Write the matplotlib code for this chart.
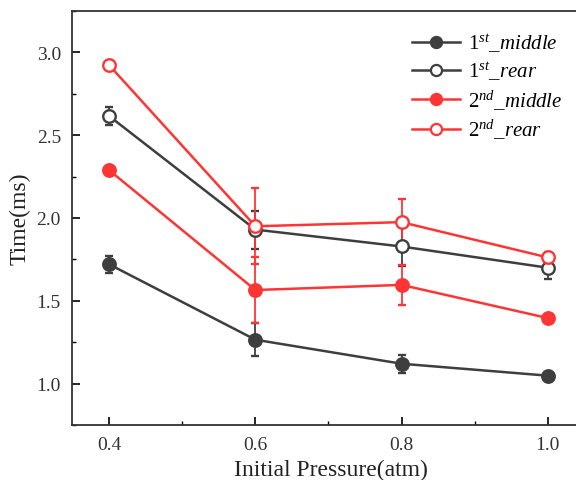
import matplotlib
matplotlib.use("Agg")
import matplotlib.pyplot as plt
from matplotlib.ticker import MultipleLocator
from matplotlib.lines import Line2D

plt.rcParams['font.family'] = ['Liberation Serif', 'DejaVu Serif']
plt.rcParams['mathtext.fontset'] = 'custom'
plt.rcParams['mathtext.rm'] = 'Liberation Serif'
plt.rcParams['mathtext.it'] = 'Liberation Serif:italic'

pressure = [0.4, 0.6, 0.8, 1.0]
first_middle = [1.72, 1.265, 1.12, 1.048]
first_middle_err = [0.05, 0.10, 0.053, 0.015]
first_rear = [2.615, 1.93, 1.828, 1.70]
first_rear_err = [0.053, 0.115, 0.12, 0.07]
second_middle = [2.288, 1.565, 1.596, 1.396]
second_middle_err = [0.015, 0.20, 0.12, 0.015]
second_rear = [2.922, 1.95, 1.975, 1.762]
second_rear_err = [0.015, 0.23, 0.14, 0.03]

labels = [r'$\mathit{1}^{\mathit{st}}\mathit{\_middle}$',
          r'$\mathit{1}^{\mathit{st}}\mathit{\_rear}$',
          r'$\mathit{2}^{\mathit{nd}}\mathit{\_middle}$',
          r'$\mathit{2}^{\mathit{nd}}\mathit{\_rear}$']

black = '#3e3e3e'
red = '#ff3535'

fig = plt.figure(figsize=(5.76, 4.81), dpi=100)
ax = fig.add_axes([72/576, 1-426/481, (590-72)/576, (426-12)/481])

series = [
    (first_middle, first_middle_err, black, True),
    (first_rear, first_rear_err, black, False),
    (second_middle, second_middle_err, red, True),
    (second_rear, second_rear_err, red, False),
]
handles = []
for (vals, errs, col, filled), lab in zip(series, labels):
    ax.errorbar(pressure, vals, yerr=errs, color=col, lw=1.8, marker='o',
                ms=9, mfc=col if filled else 'white', mec=col, mew=1.7,
                capsize=3, capthick=1.3, elinewidth=1.3)
    handles.append(Line2D([], [], color=col, lw=1.8, marker='o', ms=8,
                          mfc=col if filled else 'white', mec=col, mew=1.6,
                          label=lab))

ax.set_xlim(0.349, 1.058)
ax.set_ylim(0.75, 3.25)
ax.xaxis.set_major_locator(MultipleLocator(0.2))
ax.xaxis.set_minor_locator(MultipleLocator(0.1))
ax.yaxis.set_major_locator(MultipleLocator(0.5))
ax.yaxis.set_minor_locator(MultipleLocator(0.25))
ax.set_xticks(pressure)
ax.set_xticklabels(['0.4', '0.6', '0.8', '1.0'])
ax.set_yticks([1.0, 1.5, 2.0, 2.5, 3.0])
ax.set_yticklabels(['1.0', '1.5', '2.0', '2.5', '3.0'])
ax.tick_params(which='major', direction='in', length=6, width=1.2,
               labelsize=14, labelcolor='#333333', pad=8)
ax.tick_params(which='minor', direction='in', length=3, width=1.0)
for s in ax.spines.values():
    s.set_linewidth(1.3)
    s.set_color('#333333')
ax.spines['right'].set_visible(False)

ax.set_xlabel('Initial Pressure(atm)', fontsize=17, color='#222222', labelpad=4)
ax.set_ylabel('Time(ms)', fontsize=17, color='#222222', labelpad=4)

ax.legend(handles=handles, loc='upper left', bbox_to_anchor=(412/576, 1-33/481),
          bbox_transform=fig.transFigure, frameon=False, fontsize=15,
          handlelength=2.3, handletextpad=0.4, labelspacing=0.26,
          borderaxespad=0, borderpad=0)

fig.savefig('out.png', dpi=100)
